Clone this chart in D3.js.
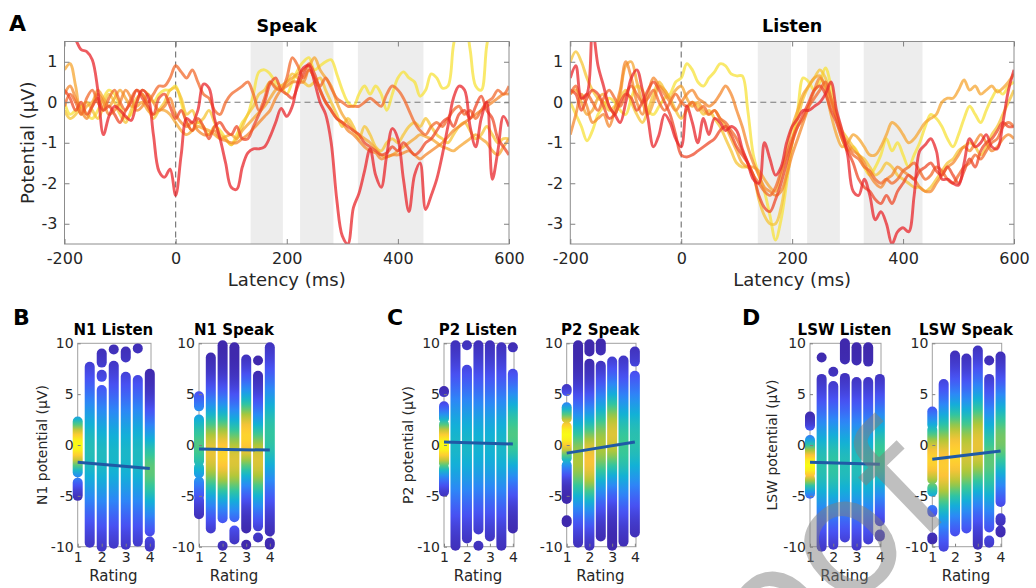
<!DOCTYPE html>
<html>
<head>
<meta charset="utf-8">
<script src="https://cdn.jsdelivr.net/npm/d3@7"></script>
<style>
  body { margin: 0; background: #fff; }
  text { font-family: "DejaVu Sans", sans-serif; }
</style>
</head>
<body>
<script>
// ---- panel A: ERP waveforms, one trace per rating (1 .. 4 by 0.5), sampled every 10 ms
var latency = d3.range(-200, 601, 10)
var waveColors = ["#e8262b", "#ee4a2a", "#f26a2c", "#f4882e", "#f5a631", "#f6c435", "#f7e23a"]
var speakWindows = [[135, 193], [224, 284], [328, 446]]
var listenWindows = [[138, 198], [227, 286], [329, 435]]
var latencyTicks = [-200, 0, 200, 400, 600]
var potentialTicks = [-3, -2, -1, 0, 1]

var speak1 = [2.0, 1.8, 1.55, 1.3, 1.25, 1.05, 0.3, -0.8, -0.35, -0.1,
  -0.2, -0.35, -0.45, 0.0, 0.3, 0.15, -0.8, -1.7, -1.85, -1.65,
  -2.3, -1.3, -0.4, -0.5, -0.2, 0.45, 0.35, -0.4, -0.9, -1.5,
  -2.1, -2.15, -1.6, -1.25, -1.15, -1.15, -1.1, -0.85, -0.5, -0.15,
  -0.35, -0.1, 0.5, 0.85, 0.9, 0.5, 0.0, -0.3, -1.0, -2.4,
  -3.3, -3.5, -2.6, -2.25, -1.7, -1.15, -1.8, -2.1, -1.3, -0.65,
  -0.9, -1.9, -2.7, -1.8, -1.5, -2.65, -2.3, -1.9, -1.3, -0.6,
  0.1, 0.4, 0.3, -0.6, -1.1, -0.4, 0.0, -1.9, -1.2, -0.35,
  -0.6]
var speak2 = [0.3, 0.1, -0.2, 0.0, -0.3, -0.1, 0.1, -0.2, -0.1, -0.3,
  -0.5, -0.2, 0.0, 0.3, 0.1, -0.1, -0.3, 0.1, 0.2, -0.1,
  -0.4, -0.2, -0.5, -0.7, -0.4, -0.6, -0.9, -0.6, -0.5, -0.7,
  -0.8, -0.6, -0.9, -0.9, -0.6, -0.3, 0.0, 0.45, 0.6, 0.3,
  0.2, 0.1, 0.4, 0.7, 0.95, 0.7, 0.3, 0.0, -0.2, -0.4,
  -0.5, -0.6, -0.7, -0.8, -1.0, -1.1, -1.2, -1.3, -1.25, -1.1,
  -1.2, -1.0, -1.15, -1.3, -1.2, -1.0, -0.9, -0.7, -0.5, -0.4,
  -0.6, -0.3, -0.2, -0.4, -0.1, 0.15, -0.2, -0.4, -0.9, -1.1,
  -1.3]
var speak3 = [-0.1, 0.2, 0.0, -0.3, 0.1, 0.3, 0.0, -0.2, 0.1, 0.3,
  0.0, -0.2, 0.1, 0.3, 0.2, 0.0, 0.2, 0.4, 0.4, 0.6,
  0.9, 0.75, 0.6, 0.8, 0.5, 0.2, 0.1, -0.2, -0.3, 0.0,
  0.2, 0.3, 0.4, 0.5, 0.2, -0.2, 0.1, 0.5, 0.35, 0.3,
  0.6, 1.1, 0.9, 0.6, 0.8, 0.6, 0.4, 0.6, 0.35, 0.1,
  0.0, -0.1, -0.1, -0.1, 0.0, 0.1, 0.0, -0.1, 0.2, 0.4,
  0.3, 0.1, -0.2, -0.5, -0.7, -0.8, -0.6, -0.5, -0.6, -0.4,
  -0.2, -0.1, -0.3, -0.2, -0.4, -0.2, 0.0, 0.1, 0.3, 0.2,
  0.4]
var speak4 = [0.2, 0.4, 0.1, -0.2, -0.4, -0.1, 0.2, 0.0, -0.3, -0.2,
  0.0, 0.3, 0.1, -0.2, -0.1, 0.2, 0.0, -0.2, -0.1, 0.1,
  -0.3, -0.5, -0.6, -0.5, -0.7, -0.8, -0.8, -0.7, -0.9, -0.95,
  -1.0, -1.0, -0.9, -0.8, -0.65, -0.5, -0.35, -0.2, 0.1, 0.3,
  0.4, 0.5, 0.5, 0.5, 0.8, 0.6, 0.3, 0.0, -0.2, -0.4,
  -0.5, -0.7, -0.8, -0.95, -1.1, -1.2, -1.25, -1.4, -1.35, -1.3,
  -1.3, -1.25, -1.2, -1.3, -1.4, -1.3, -1.2, -1.1, -1.0, -0.85,
  -0.7, -0.6, -0.5, -0.4, -0.3, -0.2, -0.1, 0.0, 0.1, 0.2,
  0.2]
var speak5 = [0.8, 0.95, 0.4, -0.3, -0.1, 0.0, 0.3, 0.1, -0.1, 0.1,
  0.3, 0.1, -0.1, -0.1, 0.0, -0.2, -0.3, -0.2, -0.2, -0.3,
  -0.5, -0.7, -0.8, -0.7, -0.6, -0.65, -0.7, -0.8, -0.9, -0.85,
  -0.8, -0.9, -0.7, -0.55, -0.4, -0.25, -0.1, 0.1, 0.3, 0.4,
  0.5, 0.6, 0.7, 0.8, 0.9, 1.1, 0.8, 0.6, 0.4, 0.0,
  -0.3, -0.5, -0.7, -0.8, -0.9, -1.0, -1.15, -1.3, -1.35, -1.3,
  -1.2, -1.1, -1.0, -0.9, -0.8, -0.85, -0.9, -1.0, -1.1, -1.15,
  -1.2, -1.1, -1.0, -0.9, -0.8, -0.9, -1.0, -1.2, -1.3, -1.1,
  -0.9]
var speak6 = [-0.2, -0.4, -0.3, -0.1, 0.0, -0.2, -0.4, -0.1, 0.2, 0.0,
  -0.3, -0.5, -0.2, 0.1, 0.2, -0.1, -0.4, -0.2, 0.0, 0.3,
  0.35, 0.1, -0.3, -0.2, -0.5, -0.4, -0.2, -0.5, -0.8, -0.9,
  -1.05, -0.9, -0.6, -0.3, -0.1, 0.2, 0.3, 0.5, 0.4, 0.3,
  0.5, 0.7, 0.6, 0.5, 0.4, 0.5, 0.6, 0.3, 0.0, -0.3,
  -0.6, -0.4, -0.6, -0.9, -0.6, -0.8, -1.1, -1.2, -1.0, -0.9,
  -1.0, -0.8, -0.6, -0.5, -0.6, -0.4, -0.6, -0.8, -0.9, -1.0,
  -0.8, -0.6, -0.5, -0.7, -0.9, -0.8, -0.6, -0.8, -1.0, -0.9,
  -0.9]
var speak7 = [0.0, -0.3, -0.2, -0.1, -0.3, -0.4, -0.2, 0.1, 0.3, 0.2,
  -0.1, -0.4, -0.3, 0.0, 0.3, 0.2, 0.0, 0.2, 0.3, 0.3,
  0.4, 0.0, -0.5, -0.7, -0.5, -0.6, -0.8, -0.6, -0.7, -0.9,
  -1.05, -0.8, -0.5, -0.3, 0.2, 0.75, 0.8, 0.7, 0.5, 0.4,
  0.2, 0.5, 0.8, 1.0, 1.1, 0.8, 0.9, 1.0, 1.05, 0.7,
  0.3, 0.0, -0.1, 0.2, 0.4, 0.2, 0.4, 0.2, -0.2, 0.2,
  0.6, 0.75, 0.6, 0.5, 0.15, 0.3, 0.7, 0.6, 0.35, 0.4,
  1.4, 2.0, 2.0, 1.3, 0.4, 0.3, 1.4, 2.0, 2.0, 2.0,
  2.0]

var listen1 = [0.6, 0.9, 0.1, 0.2, 1.8, 0.9, 0.4, -0.1, -0.3, -0.5,
  0.0, 0.6, 0.8, 0.3, -0.4, -1.1, -0.8, -0.3, -0.5, -0.9,
  -1.1, -0.1, -0.5, -1.0, -0.4, -0.8, -0.4, -0.5, -0.7, -0.6,
  -0.7, -1.15, -1.5, -1.9, -2.0, -1.0, -1.4, -1.8, -1.6, -1.0,
  -0.6, -0.4, -0.2, -0.2, -0.1, 0.0, 0.2, 0.5, -0.2, -0.7,
  -1.3, -2.2, -2.3, -1.9, -2.3, -2.9, -2.7, -3.0, -3.5, -3.2,
  -3.1, -3.2, -2.3, -1.2, -1.05, -0.9, -1.2, -1.9, -1.9, -2.0,
  -2.05, -1.5, -0.9, -1.1, -1.0, -0.8, -1.1, -1.15, -0.5, 0.3,
  0.8]
var listen2 = [0.3, 0.2, -0.2, 0.1, 0.3, 0.2, -0.1, -0.4, -0.3, 0.0,
  0.2, 0.1, -0.2, 0.0, 0.3, 0.5, 0.3, 0.0, -0.3, -0.8,
  -1.3, -1.35, -1.3, -1.2, -1.1, -1.0, -0.9, -0.7, -0.6, -0.8,
  -1.1, -1.3, -1.5, -1.8, -2.3, -2.6, -2.7, -2.4, -2.0, -1.5,
  -1.0, -0.6, -0.3, 0.0, 0.3, 0.4, 0.2, -0.2, -0.5, -0.9,
  -1.2, -1.5, -1.9, -2.1, -2.2, -2.4, -2.5, -2.3, -2.5, -2.2,
  -2.0, -1.8, -1.9, -1.7, -1.6, -1.5, -1.7, -1.8, -1.6, -1.8,
  -2.0, -1.7, -1.4, -1.6, -1.2, -1.0, -0.9, -0.7, -0.5, -0.6,
  -0.6]
var listen3 = [0.2, 0.4, 0.1, 0.2, 0.0, -0.2, 0.1, 0.3, 0.1, -0.1,
  0.2, 0.4, 0.2, 0.0, 0.1, 0.3, 0.0, -0.2, 0.0, 0.2,
  0.0, -0.1, 0.0, -0.2, -0.1, -0.3, -0.2, -0.4, -0.5, -0.7,
  -0.9, -1.2, -1.5, -1.8, -2.0, -2.2, -2.3, -2.1, -1.7, -1.3,
  -0.9, -0.6, -0.4, -0.1, 0.1, 0.3, 0.5, 0.1, -0.4, -0.8,
  -1.1, -1.3, -1.4, -1.6, -1.7, -1.9, -2.0, -1.9, -2.0, -1.9,
  -1.7, -1.6, -1.5, -1.7, -1.9, -1.8, -1.6, -1.7, -1.9, -2.0,
  -1.8, -1.6, -1.5, -1.3, -1.4, -1.2, -1.0, -0.9, -0.6, -0.5,
  -0.6]
var listen4 = [-0.8, -0.3, 0.2, -0.1, -0.5, -0.4, -0.3, -0.6, -0.2, 0.3,
  1.0, 0.6, 0.0, -0.3, 0.2, 0.6, 0.4, 0.2, 0.0, -0.2,
  0.0, 0.2, 0.3, 0.1, 0.0, -0.1, 0.0, 0.2, 0.4, 0.2,
  -0.2, -0.6, -1.1, -1.5, -1.8, -2.1, -2.2, -2.3, -2.2, -1.8,
  -1.3, -0.9, -0.5, -0.1, 0.3, 0.6, 0.4, 0.0, -0.4, -0.8,
  -1.0, -1.2, -1.3, -1.5, -1.8, -2.0, -2.1, -1.9, -1.8, -1.6,
  -1.7, -1.8, -1.9, -2.1, -2.2, -2.2, -2.0, -1.8, -1.6, -1.5,
  -1.3, -1.1, -1.2, -1.0, -0.8, -1.0, -1.2, -1.1, -0.9, -0.8,
  -0.9]
var listen5 = [0.2, 0.3, 0.0, -0.3, -0.2, 0.1, 0.2, -0.1, -0.3, 0.2,
  0.9, 1.0, 0.5, 0.0, -0.3, 0.0, 0.4, 0.3, 0.1, 0.3,
  0.4, 0.1, -0.1, 0.0, -0.2, -0.3, -0.2, -0.4, -0.6, -0.9,
  -1.2, -1.5, -1.6, -1.6, -1.7, -1.9, -2.1, -2.2, -1.8, -1.2,
  -0.6, -0.2, 0.2, 0.4, 0.6, 0.65, 0.3, -0.3, -0.8, -1.1,
  -1.0, -0.8, -0.9, -1.1, -1.3, -1.3, -1.1, -0.8, -0.5, -0.6,
  -0.8, -1.0, -0.9, -0.7, -0.5, -0.4, -0.3, 0.0, 0.1, 0.1,
  0.3, 0.55, 0.3, 0.4, 0.2, 0.3, 0.4, 0.25, 0.35, 0.5,
  0.7]
var listen6 = [1.0, 1.25, 1.0, 0.6, 0.3, 0.1, 0.0, -0.2, -0.1, 0.1,
  0.3, 0.0, -0.3, -0.5, -0.2, 0.2, 0.5, 0.3, 0.1, -0.2,
  -0.4, -0.2, 0.0, -0.1, -0.3, -0.2, -0.4, -0.6, -0.9, -1.2,
  -1.5, -1.6, -1.6, -1.8, -2.4, -2.8, -3.0, -3.0, -2.6, -1.8,
  -1.0, -0.4, 0.1, 0.4, 0.6, 0.8, 0.6, 0.1, -0.3, -0.7,
  -0.9, -1.1, -1.3, -1.4, -1.6, -1.8, -1.7, -1.5, -1.6, -1.8,
  -1.9, -2.0, -2.1, -2.1, -2.2, -2.1, -1.9, -1.7, -1.5, -1.4,
  -1.2, -1.1, -1.0, -1.1, -1.3, -1.1, -0.8, -0.6, -0.3, 0.0,
  0.3]
var listen7 = [0.0, -0.3, -0.6, -0.95, -0.7, -0.3, -0.1, 0.1, 0.0, -0.2,
  -0.3, 0.1, 0.4, 0.3, -0.2, -0.3, -0.1, 0.1, 0.2, 0.5,
  0.6, 0.95, 0.8, 0.5, 0.4, 0.6, 0.75, 0.95, 0.9, 0.7,
  0.65, 0.65, -0.2, -1.3, -1.8, -2.2, -2.8, -3.4, -2.9, -2.0,
  -1.0, -0.2, 0.6, 0.5, 0.3, 0.5, 0.85, 0.4, -0.3, -0.9,
  -1.2, -1.1, -1.3, -1.6, -1.8, -1.6, -1.3, -0.9, -1.2, -1.0,
  -1.3, -1.6, -1.3, -1.0, -0.6, -0.3, -0.4, -0.6, -0.9, -1.1,
  -0.8, -0.4, -0.1, -0.3, -0.5, -0.2, 0.1, 0.3, 0.2, 0.4,
  0.5]

// ---- panels B-D: single-trial amplitudes per rating
// each column: list of [low, high] runs of stacked markers; heat = [peak µV, density level, spread µV]
var ratings = [1, 1.5, 2, 2.5, 3, 3.5, 4]
var ratingTicks = [1, 2, 3, 4]
var amplitudeTicks = [-10, -5, 0, 5, 10]

var n1ListenSegs = [[[-5.0, -3.7], [-2.7, 2.3]], [[-9.6, 7.7]], [[-10, 5.4], [6.7, 6.9], [8.1, 9.0]],
  [[-9.7, 7.8], [9.4, 9.4]], [[-9.8, 6.7], [8.6, 9.2]], [[-9.5, 6.4], [9.5, 9.5]], [[-10, -9.5], [-8.5, 7.0]]]
var n1ListenHeat = [[0, 1.0, 2.0], [-0.5, 0.5, 4.5], [-1, 0.48, 4.5], [-1, 0.46, 4.5], [-1, 0.46, 4.5], [-1, 0.48, 4.5], [-2.5, 0.62, 3.5]]
var n1ListenFit = [-1.7, -2.3]

var n1SpeakSegs = [[[-6.8, -5.4], [-5.0, -3.6], [-2.8, -2.2], [-1.6, 2.5], [3.8, 4.8]], [[-8.2, 8.6]],
  [[-9.9, -9.9], [-7.2, 9.8]], [[-9.3, -8.4], [-7.1, 9.6]], [[-9.8, -9.8], [-8.2, 8.4]],
  [[-9.1, -9.1], [-8.0, 6.8], [8.3, 8.3]], [[-9.8, -9.6], [-8.5, 9.6]]]
var n1SpeakHeat = [[0, 0.6, 3], [-0.8, 0.82, 3.5], [-1, 0.9, 3.5], [-1.5, 0.8, 3.5], [0.8, 0.9, 3.2], [-1.5, 0.8, 3.2], [1, 0.55, 4]]
var n1SpeakFit = [-0.4, -0.5]

var p2ListenSegs = [[[-4.6, -2.3], [-1.8, 2.0], [2.6, 3.8], [5.2, 5.3]], [[-9.9, 9.8]], [[-9.2, 7.4], [9.8, 9.8]],
  [[-9.9, -9.9], [-8.3, 9.8]], [[-9.0, 9.8]], [[-9.9, 9.6]], [[-8.2, 7.0], [9.6, 9.6]]]
var p2ListenHeat = [[0, 1.0, 2.0], [0, 0.46, 4.5], [0, 0.46, 4.5], [0, 0.44, 4.5], [0, 0.44, 4.5], [0, 0.46, 4.5], [1, 0.6, 3.5]]
var p2ListenFit = [0.3, 0.1]

var p2SpeakSegs = [[[-7.6, -7.4], [-5.3, -2.0], [-1.3, 1.8], [2.6, 3.7], [5.3, 5.5]], [[-9.6, 9.8]],
  [[-9.9, 8.0], [9.2, 9.9]], [[-9.0, 7.8], [9.3, 10]], [[-9.9, 8.2]], [[-9.5, 8.3]], [[-8.6, 6.8], [8.2, 9.2]]]
var p2SpeakHeat = [[1, 1.0, 2.0], [-1.5, 0.72, 3.5], [-1.5, 0.85, 3.5], [0, 0.72, 3.5], [1, 0.8, 3.5], [0, 0.58, 4], [0.5, 0.52, 4]]
var p2SpeakFit = [-0.8, 0.3]

var lswListenSegs = [[[-4.8, -3.3], [-2.8, 0.5], [1.9, 2.8]], [[-10, 6.5], [8.6, 8.6]], [[-9.8, 5.8], [7.2, 7.2]],
  [[-9.1, 6.6], [8.4, 10]], [[-9.9, 6.2], [8.3, 9.6]], [[-9.3, 6.2], [8.2, 9.6]], [[-9.0, -8.8], [-7.5, 6.5]]]
var lswListenHeat = [[-2, 1.0, 1.8], [-2, 0.52, 4], [-2, 0.55, 4], [-2, 0.5, 4], [-2, 0.5, 4], [-2, 0.5, 4], [-1, 0.58, 3.5]]
var lswListenFit = [-1.7, -1.9]

var lswSpeakSegs = [[[-9.3, -9.1], [-6.6, -6.4], [-4.6, -4.2], [-3.4, 1.5], [2.0, 3.3]], [[-10, 6.0]],
  [[-8.5, 8.8]], [[-8.2, 8.5]], [[-9.8, 9.3]], [[-9.6, -9.4], [-8.1, 6.5], [8.3, 8.3]],
  [[-8.6, -8.4], [-7.5, -7.2], [-5.6, 8.7]]]
var lswSpeakHeat = [[-1.5, 0.9, 2.8], [-2, 0.88, 4], [-1, 0.9, 4], [-1, 0.78, 4], [0, 0.82, 4], [-1.5, 0.62, 4], [0.5, 0.65, 3.5]]
var lswSpeakFit = [-1.4, -0.6]

// parula-like colormap
var parula = d3.piecewise(d3.interpolateRgb, ["#3e26a8", "#4852f4", "#2d87f7", "#12b1d6", "#37c897", "#abc739", "#fec338", "#f9fb14"])

var svg = d3.select("body").append("svg")
  .attr("width", 1036)
  .attr("height", 588)
var defs = svg.append("defs")
var ink = "#262626"
var plain = d => String(d)   // hyphen-minus, no decimals

function styleAxis(g, size) {
  g.select(".domain").remove()
  g.selectAll(".tick line").attr("stroke", "#808080")
  g.selectAll(".tick text").attr("fill", ink).style("font-size", size + "px")
}

function wavePanel(left, right, title, waves, windows, showYLabel) {
  var top = 41.5, bottom = 244
  var x = d3.scaleLinear().domain([-200, 600]).range([left, right])
  var y = d3.scaleLinear().domain([-3.5, 1.5]).range([bottom, top])
  var id = "clip" + title
  defs.append("clipPath").attr("id", id).append("rect")
    .attr("x", left).attr("y", top).attr("width", right - left).attr("height", bottom - top)

  var g = svg.append("g")
  g.selectAll("rect.win").data(windows).enter().append("rect")
    .attr("x", d => x(d[0])).attr("width", d => x(d[1]) - x(d[0]))
    .attr("y", top).attr("height", bottom - top)
    .attr("fill", "#ededed")

  g.append("line")
    .attr("x1", left).attr("x2", right).attr("y1", y(0)).attr("y2", y(0))
    .attr("stroke", "#7a7a7a").attr("stroke-width", 1.2).attr("stroke-dasharray", "6,4")
  g.append("line")
    .attr("x1", x(0)).attr("x2", x(0)).attr("y1", top).attr("y2", bottom)
    .attr("stroke", "#7a7a7a").attr("stroke-width", 1.2).attr("stroke-dasharray", "6,4")

  var line = d3.line()
    .x((d, i) => x(latency[i]))
    .y(d => y(d))
    .curve(d3.curveCatmullRom)

  var lines = g.append("g").attr("clip-path", "url(#" + id + ")")
  for (var i = waves.length - 1; i >= 0; i--) {
    lines.append("path")
      .attr("d", line(waves[i]))
      .attr("fill", "none")
      .attr("stroke", waveColors[i])
      .attr("stroke-width", 2.9)
      .attr("stroke-opacity", 0.75)
      .attr("stroke-linejoin", "round")
  }

  g.append("rect")
    .attr("x", left).attr("y", top).attr("width", right - left).attr("height", bottom - top)
    .attr("fill", "none").attr("stroke", "#8c8c8c").attr("stroke-width", 1)

  g.append("g").attr("transform", "translate(0," + bottom + ")")
    .call(d3.axisBottom(x).tickValues(latencyTicks).tickFormat(plain).tickSizeInner(-5).tickSizeOuter(0).tickPadding(9))
    .call(s => styleAxis(s, 16))
  g.append("g").attr("transform", "translate(0," + top + ")")
    .call(d3.axisTop(x).tickValues(latencyTicks).tickSizeInner(-5).tickSizeOuter(0).tickFormat(""))
    .call(s => styleAxis(s, 16))
  g.append("g").attr("transform", "translate(" + left + ",0)")
    .call(d3.axisLeft(y).tickValues(potentialTicks).tickFormat(plain).tickSizeInner(-5).tickSizeOuter(0).tickPadding(7))
    .call(s => styleAxis(s, 16))
  g.append("g").attr("transform", "translate(" + right + ",0)")
    .call(d3.axisRight(y).tickValues(potentialTicks).tickSizeInner(-5).tickSizeOuter(0).tickFormat(""))
    .call(s => styleAxis(s, 16))

  var cx = (left + right) / 2
  g.append("text").attr("x", cx).attr("y", 32)
    .attr("text-anchor", "middle").style("font-size", "17.5px").style("font-weight", "bold")
    .text(title)
  g.append("text").attr("x", cx).attr("y", 286)
    .attr("text-anchor", "middle").attr("fill", ink).style("font-size", "18px")
    .text("Latency (ms)")
  if (showYLabel) {
    g.append("text")
      .attr("transform", "translate(34," + (top + bottom) / 2 + ") rotate(-90)")
      .attr("text-anchor", "middle").attr("fill", ink).style("font-size", "18px")
      .text("Potential (µV)")
  }
}

function ratingPanel(left, right, title, segs, heat, fit, yLabel, yLabelX) {
  var top = 343.3, bottom = 546.7
  var x = d3.scaleLinear().domain([1, 4.05]).range([left, right])
  var y = d3.scaleLinear().domain([-10, 10]).range([bottom, top])
  var g = svg.append("g")

  g.append("rect")
    .attr("x", left).attr("y", top).attr("width", right - left).attr("height", bottom - top)
    .attr("fill", "none").attr("stroke", "#a0a0a0").attr("stroke-width", 1)

  ratings.forEach((r, i) => {
    var gid = "g" + title.replace(/\s/g, "") + i
    var h = heat[i]
    var grad = defs.append("linearGradient").attr("id", gid)
      .attr("gradientUnits", "userSpaceOnUse")
      .attr("x1", 0).attr("x2", 0).attr("y1", y(10.5)).attr("y2", y(-10.5))
    d3.range(10.5, -10.6, -0.5).forEach(v => {
      var lvl = Math.max(0.01, h[1] * Math.exp(-0.5 * Math.pow((v - h[0]) / h[2], 2)))
      grad.append("stop").attr("offset", (10.5 - v) / 21).attr("stop-color", parula(lvl))
    })
    segs[i].forEach(s => {
      if (s[0] === s[1]) {
        g.append("circle").attr("cx", x(r)).attr("cy", y(s[0])).attr("r", 5)
          .attr("fill", "url(#" + gid + ")")
      } else {
        g.append("line")
          .attr("x1", x(r)).attr("x2", x(r)).attr("y1", y(s[1])).attr("y2", y(s[0]))
          .attr("stroke", "url(#" + gid + ")").attr("stroke-width", 10)
          .attr("stroke-linecap", "round")
      }
    })
  })

  g.append("line")
    .attr("x1", x(1)).attr("y1", y(fit[0])).attr("x2", x(4)).attr("y2", y(fit[1]))
    .attr("stroke", "#1f5aa6").attr("stroke-width", 3)

  g.append("g").attr("transform", "translate(0," + bottom + ")")
    .call(d3.axisBottom(x).tickValues(ratingTicks).tickFormat(plain).tickSizeInner(-3).tickSizeOuter(0).tickPadding(5))
    .call(s => styleAxis(s, 14))
  g.append("g").attr("transform", "translate(" + left + ",0)")
    .call(d3.axisLeft(y).tickValues(amplitudeTicks).tickFormat(plain).tickSizeInner(-3).tickSizeOuter(0).tickPadding(4))
    .call(s => styleAxis(s, 14))

  var cx = (left + right) / 2
  g.append("text").attr("x", cx - 1).attr("y", 335)
    .attr("text-anchor", "middle").style("font-size", "15px").style("font-weight", "bold")
    .text(title)
  g.append("text").attr("x", cx - 1).attr("y", 581)
    .attr("text-anchor", "middle").attr("fill", ink).style("font-size", "15px")
    .text("Rating")
  if (yLabel) {
    g.append("text")
      .attr("transform", "translate(" + yLabelX + "," + (top + bottom) / 2 + ") rotate(-90)")
      .attr("text-anchor", "middle").attr("fill", ink).style("font-size", "14px")
      .text(yLabel)
  }
}

wavePanel(64.5, 509, "Speak", [speak1, speak2, speak3, speak4, speak5, speak6, speak7], speakWindows, true)
wavePanel(570.3, 1014, "Listen", [listen1, listen2, listen3, listen4, listen5, listen6, listen7], listenWindows, false)

ratingPanel(77.7, 151, "N1 Listen", n1ListenSegs, n1ListenHeat, n1ListenFit, "N1 potential (µV)", 46.5)
ratingPanel(199, 271, "N1 Speak", n1SpeakSegs, n1SpeakHeat, n1SpeakFit)
ratingPanel(444, 514, "P2 Listen", p2ListenSegs, p2ListenHeat, p2ListenFit, "P2 potential (µV)", 413)
ratingPanel(566.7, 636, "P2 Speak", p2SpeakSegs, p2SpeakHeat, p2SpeakFit)
ratingPanel(810, 881, "LSW Listen", lswListenSegs, lswListenHeat, lswListenFit, "LSW potential (µV)", 776.6)
ratingPanel(932.3, 1001.7, "LSW Speak", lswSpeakSegs, lswSpeakHeat, lswSpeakFit)

// panel letters
var letters = [["A", 9, 31], ["B", 13, 325], ["C", 387, 325], ["D", 742, 325]]
svg.selectAll("text.letter").data(letters).enter().append("text")
  .attr("x", d => d[1]).attr("y", d => d[2])
  .style("font-size", "22px").style("font-weight", "bold")
  .text(d => d[0])

// proof watermark
svg.append("text")
  .attr("transform", "translate(657,797) rotate(-44)")
  .attr("fill", "#808080").attr("fill-opacity", 0.5)
  .style("font-size", "165px")
  .text("Proof")
</script>
</body>
</html>
